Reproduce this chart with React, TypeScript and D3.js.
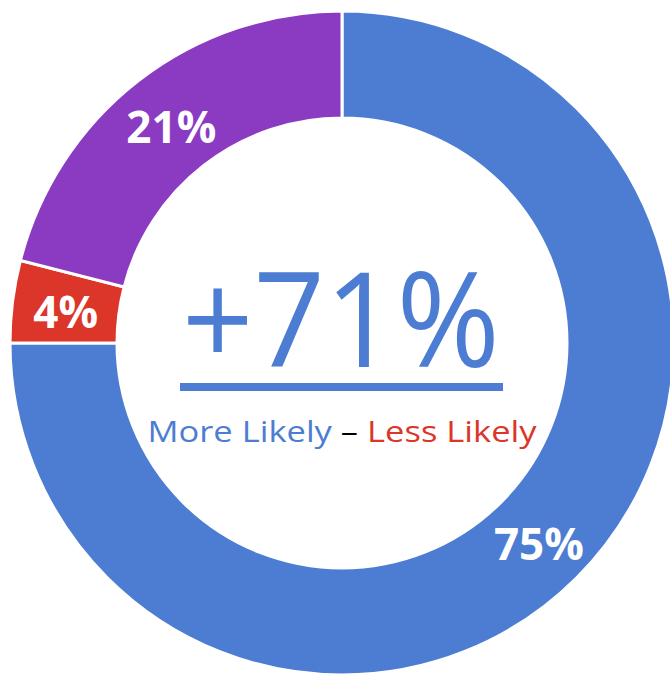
import React from "react";
import * as d3 from "d3";

const categories = ["More Likely", "Less Likely", "Neutral"];
const values = [75, 4, 21];
const labels = ["75%", "4%", "21%"];
const colors = ["#4D7DD2", "#DC3529", "#8A3BC2"];
const netLabel = "+71%";

export default function App() {
  const W = 670, H = 674;
  const cx = 342, cy = 343;
  const R = 332, r = 225;
  const pie = d3.pie<number>().sort(null).value((d) => d)(values);
  const arc = d3.arc<d3.PieArcDatum<number>>().innerRadius(r).outerRadius(R);
  const labelArc = d3.arc<d3.PieArcDatum<number>>().innerRadius((R + r) / 2).outerRadius((R + r) / 2);
  return (
    <svg width={W} height={H} style={{ position: "absolute", left: 0, top: 0, background: "#fff" }}>
      <g transform={`translate(${cx},${cy})`}>
        {pie.map((p, i) => (
          <path key={categories[i]} d={arc(p) || ""} fill={colors[i]} stroke="#fff" strokeWidth={3} />
        ))}
        {pie.map((p, i) => {
          const [x, y] = labelArc.centroid(p);
          return (
            <text key={"l" + i} x={x} y={y + 3} textAnchor="middle" dominantBaseline="central"
              fill="#fff" fontFamily="'Open Sans', sans-serif" fontWeight={700} fontSize={44}>
              {labels[i]}
            </text>
          );
        })}
        <text x={-1} y={24} textAnchor="middle" fill="#4D7DD2" fontFamily="'Open Sans', sans-serif"
          fontSize={132} textLength={318} lengthAdjust="spacingAndGlyphs">
          {netLabel}
        </text>
        <rect x={-162} y={40} width={323} height={8} fill="#4D7DD2" />
        <text x={0} y={99} textAnchor="middle" fontFamily="'Open Sans', sans-serif" fontSize={30}
          textLength={389} lengthAdjust="spacingAndGlyphs">
          <tspan fill="#4D7DD2">More Likely</tspan>
          <tspan fill="#000"> – </tspan>
          <tspan fill="#DC3529">Less Likely</tspan>
        </text>
      </g>
    </svg>
  );
}
